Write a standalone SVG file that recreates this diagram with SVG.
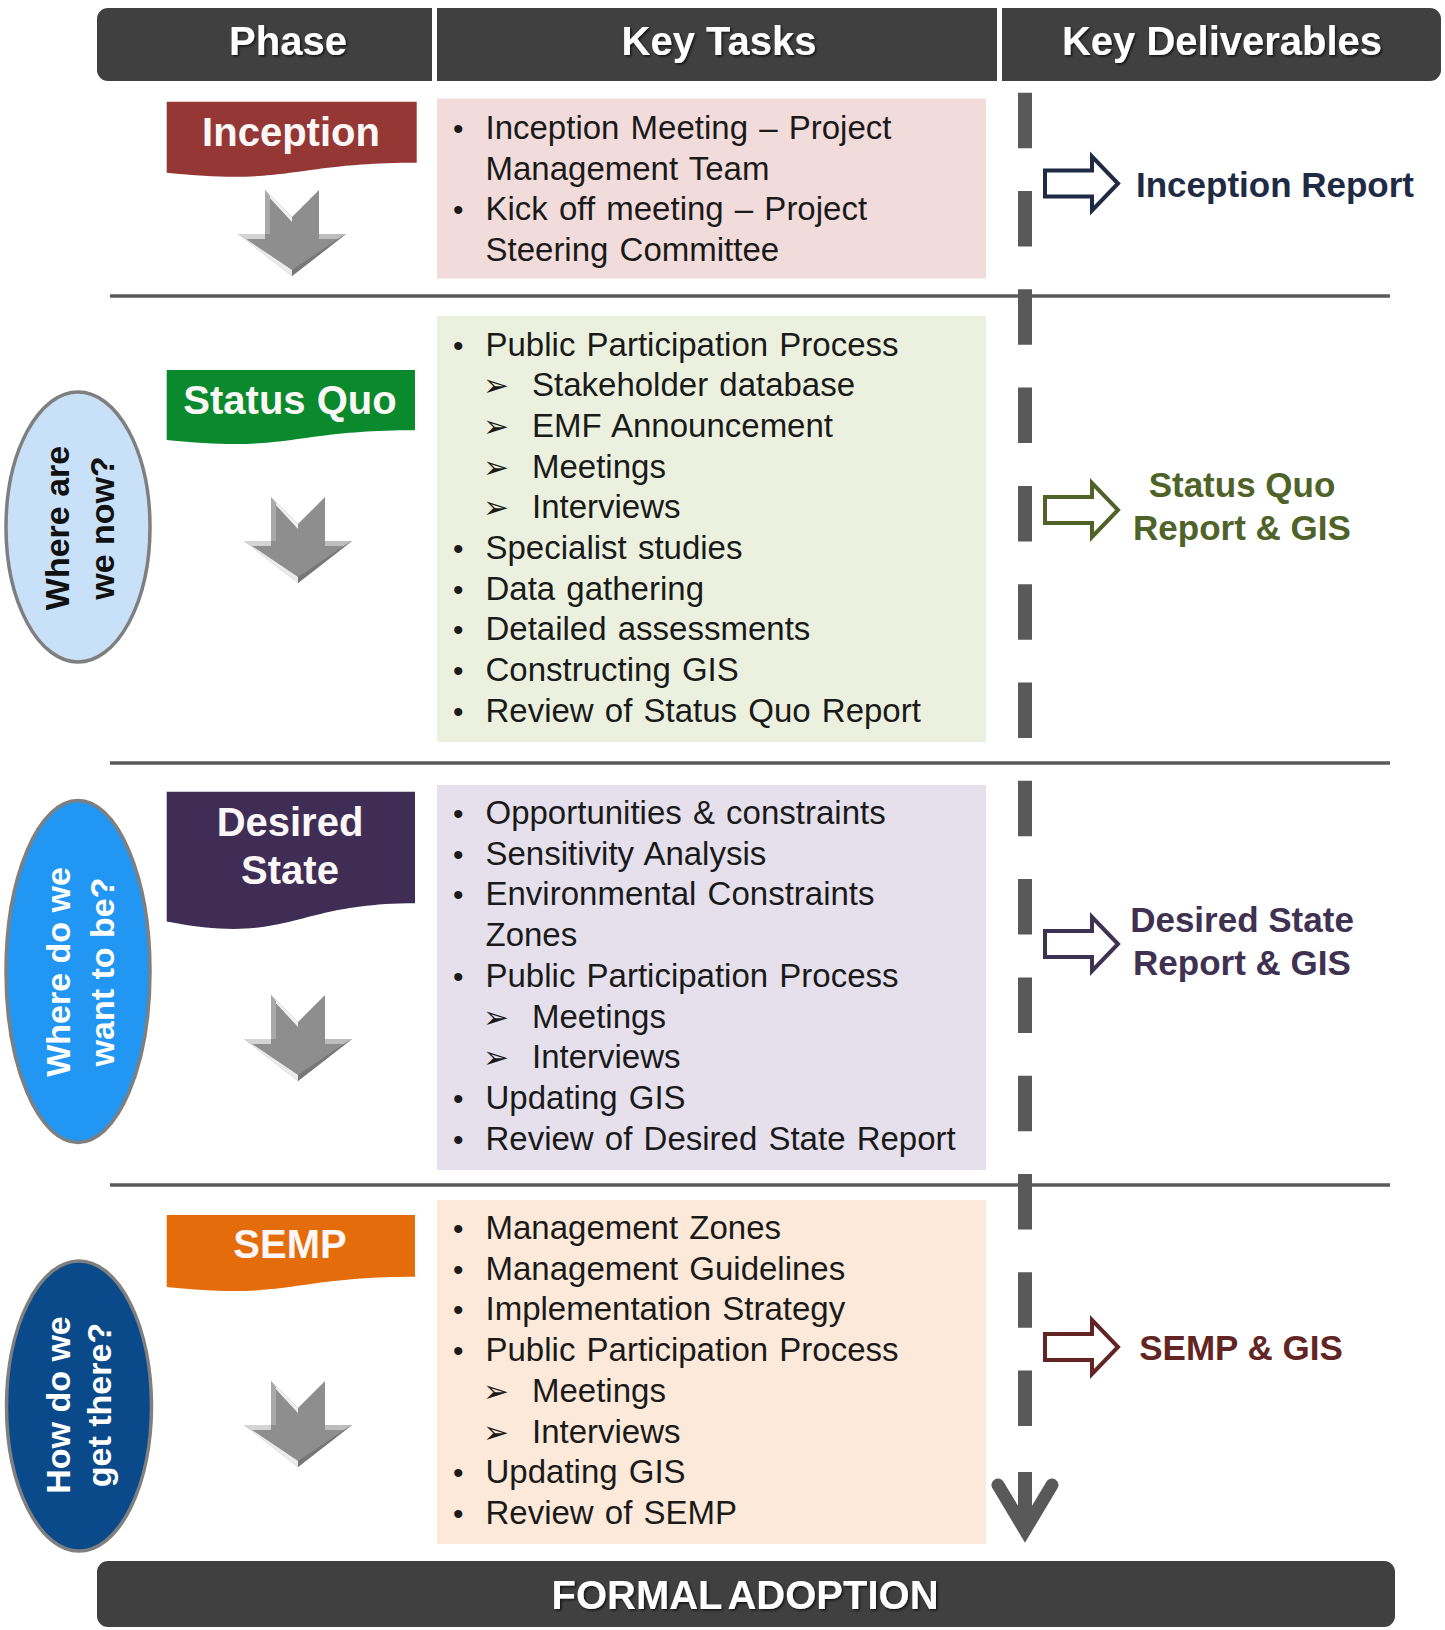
<svg xmlns="http://www.w3.org/2000/svg" width="1445" height="1630" viewBox="0 0 1445 1630">
<style>
.hdr{font-family:"Liberation Sans",Arial,sans-serif;font-weight:bold;font-size:40px;fill:#ffffff;text-anchor:middle}
.ban{font-family:"Liberation Sans",Arial,sans-serif;font-weight:bold;font-size:40px;fill:#fbf7f7;text-anchor:middle}
.task{font-family:"Liberation Sans",Arial,sans-serif;font-size:33px;fill:#1a1a1a;word-spacing:2px}
.bul{font-size:30px}
.sub{font-family:"DejaVu Sans",sans-serif;font-size:31px;fill:#1a1a1a}
.ov{font-family:"Liberation Sans",Arial,sans-serif;font-weight:bold;font-size:34px;text-anchor:middle}
.del{font-family:"Liberation Sans",Arial,sans-serif;font-weight:bold;font-size:35px;text-anchor:middle}
.sep{stroke:#5a5a5a;stroke-width:3.5}
.darr{fill:#ffffff;stroke-width:4;stroke-linejoin:miter}
.gmain{fill:#8e8e8e}
</style>
<defs>
<filter id="sh" x="-10%" y="-20%" width="120%" height="150%">
<feDropShadow dx="1.5" dy="1.5" stdDeviation="1" flood-color="#000" flood-opacity="0.7"/>
</filter>
<g id="garrow">
<polygon class="gmain" points="-27,0 0,27 27,0 27,44 54,44 0,86 -54,44 -27,44"/>
<polygon fill="#f2f2f2" points="-27,0 0,27 0,32 -24,6"/>
<polygon fill="#a9a9a9" points="-27,0 -22,6 -22,44 -27,44"/>
<polygon fill="#d4d4d4" points="-54,44 -27,44 -27,49 -46,49"/>
<polygon fill="#ececec" points="-54,44 -46,49 0,80 0,86"/>
<polygon fill="#bdbdbd" points="27,44 54,44 46,49 27,49"/>
<polygon fill="#777777" points="54,44 0,86 0,80 46,49"/>
</g>
</defs>
<rect width="1445" height="1630" fill="#ffffff"/>

<g id="header">
<rect x="97" y="8" width="1344" height="73" rx="11" fill="#404040"/>
<rect x="432" y="8" width="5" height="73" fill="#ffffff"/>
<rect x="997" y="8" width="5" height="73" fill="#ffffff"/>
<text class="hdr" x="288" y="55" filter="url(#sh)">Phase</text>
<text class="hdr" x="719" y="55" filter="url(#sh)">Key Tasks</text>
<text class="hdr" x="1222" y="55" filter="url(#sh)">Key Deliverables</text>
</g>

<g id="connectors">
<line class="sep" x1="110" y1="296" x2="1390" y2="296"/>
<line class="sep" x1="110" y1="763" x2="1390" y2="763"/>
<line class="sep" x1="110" y1="1185" x2="1390" y2="1185"/>
<line x1="1025" y1="92.7" x2="1025" y2="1428" stroke="#595959" stroke-width="14" stroke-dasharray="55.5 42.8"/>
<line x1="1025" y1="1472" x2="1025" y2="1528" stroke="#595959" stroke-width="14"/>
<polyline points="998,1485 1025,1530 1052,1485" fill="none" stroke="#595959" stroke-width="13" stroke-linecap="round" stroke-linejoin="miter" stroke-miterlimit="10"/>
<use href="#garrow" x="292" y="190"/>
<use href="#garrow" x="298" y="497"/>
<use href="#garrow" x="298" y="995"/>
<use href="#garrow" x="298" y="1381"/>
<path class="darr" stroke="#1f2a44" d="M1045 170.5 H1092 V156.5 L1118 183.5 L1092 210.5 V196.5 H1045 Z"/>
<path class="darr" stroke="#4f6228" d="M1045 497 H1092 V483 L1118 510 L1092 537 V523 H1045 Z"/>
<path class="darr" stroke="#3f3151" d="M1045 931 H1092 V917 L1118 944 L1092 971 V957 H1045 Z"/>
<path class="darr" stroke="#632523" d="M1045 1334 H1092 V1320 L1118 1347 L1092 1374 V1360 H1045 Z"/>
</g>

<g id="oval-now">
<ellipse cx="78" cy="527" rx="72" ry="135" fill="#c9e1f8" stroke="#7f7f7f" stroke-width="3.5"/>
<text class="ov" fill="#111111" transform="translate(69,528) rotate(-90)">Where are</text>
<text class="ov" fill="#111111" transform="translate(114,528) rotate(-90)">we now?</text>
</g>
<g id="oval-want">
<ellipse cx="78" cy="971.5" rx="72" ry="171" fill="#2196f3" stroke="#7f7f7f" stroke-width="3.5"/>
<text class="ov" fill="#ffffff" transform="translate(70,972) rotate(-90)">Where do we</text>
<text class="ov" fill="#ffffff" transform="translate(114,972) rotate(-90)">want to be?</text>
</g>
<g id="oval-how">
<ellipse cx="79" cy="1406" rx="72.5" ry="145" fill="#0b4a8a" stroke="#7f7f7f" stroke-width="3.5"/>
<text class="ov" fill="#ffffff" transform="translate(70,1405) rotate(-90)">How do we</text>
<text class="ov" fill="#ffffff" transform="translate(111,1405) rotate(-90)">get there?</text>
</g>

<g id="phase-inception">
<path fill="#953735" d="M166.7 101.7 H416.7 V162.7 C291.7 162.7 291.7 185.8 166.7 172.7 Z"/>
<text class="ban" x="291" y="146">Inception</text>
</g>
<g id="phase-statusquo">
<path fill="#0a8a2c" d="M166.7 370 H415 V430.2 C290.8 430.2 290.8 453 166.7 440 Z"/>
<text class="ban" x="290" y="414">Status Quo</text>
</g>
<g id="phase-desired">
<path fill="#3f2d55" d="M166.7 791.7 H415 V903.2 C290.8 903.2 290.8 945.6 166.7 921.5 Z"/>
<text class="ban" x="290" y="836">Desired</text>
<text class="ban" x="290" y="884">State</text>
</g>
<g id="phase-semp">
<path fill="#e46c0a" d="M166.7 1215 H415 V1276.8 C290.8 1276.8 290.8 1300.2 166.7 1287 Z"/>
<text class="ban" x="290" y="1258">SEMP</text>
</g>

<g id="tasks-inception">
<rect x="437" y="98.5" width="549" height="180" fill="#f2dcdb"/>
<text class="task" y="139"><tspan class="bul" x="453">•</tspan><tspan x="485.5">Inception Meeting – Project</tspan></text>
<text class="task" x="485.5" y="179.7">Management Team</text>
<text class="task" y="220.4"><tspan class="bul" x="453">•</tspan><tspan x="485.5">Kick off meeting – Project</tspan></text>
<text class="task" x="485.5" y="261.1">Steering Committee</text>
</g>

<g id="tasks-statusquo">
<rect x="437" y="316" width="549" height="426" fill="#ebf1de"/>
<text class="task" y="355.5"><tspan class="bul" x="453">•</tspan><tspan x="485.5">Public Participation Process</tspan></text>
<text class="task" y="396.2"><tspan class="sub" x="483">➢</tspan><tspan x="532">Stakeholder database</tspan></text>
<text class="task" y="436.9"><tspan class="sub" x="483">➢</tspan><tspan x="532">EMF Announcement</tspan></text>
<text class="task" y="477.6"><tspan class="sub" x="483">➢</tspan><tspan x="532">Meetings</tspan></text>
<text class="task" y="518.3"><tspan class="sub" x="483">➢</tspan><tspan x="532">Interviews</tspan></text>
<text class="task" y="559"><tspan class="bul" x="453">•</tspan><tspan x="485.5">Specialist studies</tspan></text>
<text class="task" y="599.7"><tspan class="bul" x="453">•</tspan><tspan x="485.5">Data gathering</tspan></text>
<text class="task" y="640.4"><tspan class="bul" x="453">•</tspan><tspan x="485.5">Detailed assessments</tspan></text>
<text class="task" y="681.1"><tspan class="bul" x="453">•</tspan><tspan x="485.5">Constructing GIS</tspan></text>
<text class="task" y="721.8"><tspan class="bul" x="453">•</tspan><tspan x="485.5">Review of Status Quo Report</tspan></text>
</g>

<g id="tasks-desired">
<rect x="437" y="785" width="549" height="385" fill="#e5e0ec"/>
<text class="task" y="824"><tspan class="bul" x="453">•</tspan><tspan x="485.5">Opportunities &amp; constraints</tspan></text>
<text class="task" y="864.7"><tspan class="bul" x="453">•</tspan><tspan x="485.5">Sensitivity Analysis</tspan></text>
<text class="task" y="905.4"><tspan class="bul" x="453">•</tspan><tspan x="485.5">Environmental Constraints</tspan></text>
<text class="task" x="485.5" y="946.1">Zones</text>
<text class="task" y="986.8"><tspan class="bul" x="453">•</tspan><tspan x="485.5">Public Participation Process</tspan></text>
<text class="task" y="1027.5"><tspan class="sub" x="483">➢</tspan><tspan x="532">Meetings</tspan></text>
<text class="task" y="1068.2"><tspan class="sub" x="483">➢</tspan><tspan x="532">Interviews</tspan></text>
<text class="task" y="1108.9"><tspan class="bul" x="453">•</tspan><tspan x="485.5">Updating GIS</tspan></text>
<text class="task" y="1149.6"><tspan class="bul" x="453">•</tspan><tspan x="485.5">Review of Desired State Report</tspan></text>
</g>

<g id="tasks-semp">
<rect x="437" y="1200" width="549" height="344" fill="#fde9d9"/>
<text class="task" y="1239"><tspan class="bul" x="453">•</tspan><tspan x="485.5">Management Zones</tspan></text>
<text class="task" y="1279.7"><tspan class="bul" x="453">•</tspan><tspan x="485.5">Management Guidelines</tspan></text>
<text class="task" y="1320.4"><tspan class="bul" x="453">•</tspan><tspan x="485.5">Implementation Strategy</tspan></text>
<text class="task" y="1361.1"><tspan class="bul" x="453">•</tspan><tspan x="485.5">Public Participation Process</tspan></text>
<text class="task" y="1401.8"><tspan class="sub" x="483">➢</tspan><tspan x="532">Meetings</tspan></text>
<text class="task" y="1442.5"><tspan class="sub" x="483">➢</tspan><tspan x="532">Interviews</tspan></text>
<text class="task" y="1483.2"><tspan class="bul" x="453">•</tspan><tspan x="485.5">Updating GIS</tspan></text>
<text class="task" y="1523.9"><tspan class="bul" x="453">•</tspan><tspan x="485.5">Review of SEMP</tspan></text>
</g>

<g id="deliv-inception">
<text class="del" x="1275" y="197" fill="#1f2a44" font-size="36">Inception Report</text>
</g>
<g id="deliv-statusquo">
<text class="del" x="1242" y="497" fill="#4f6228">Status Quo</text>
<text class="del" x="1242" y="540" fill="#4f6228">Report &amp; GIS</text>
</g>
<g id="deliv-desired">
<text class="del" x="1242" y="932" fill="#3f3151">Desired State</text>
<text class="del" x="1242" y="975" fill="#3f3151">Report &amp; GIS</text>
</g>
<g id="deliv-semp">
<text class="del" x="1241" y="1360" fill="#632523">SEMP &amp; GIS</text>
</g>

<g id="formal-adoption">
<rect x="97" y="1561" width="1298" height="66" rx="11" fill="#404040"/>
<text class="hdr" x="745" y="1609" font-size="38" word-spacing="-4" filter="url(#sh)">FORMAL ADOPTION</text>
</g>
</svg>
